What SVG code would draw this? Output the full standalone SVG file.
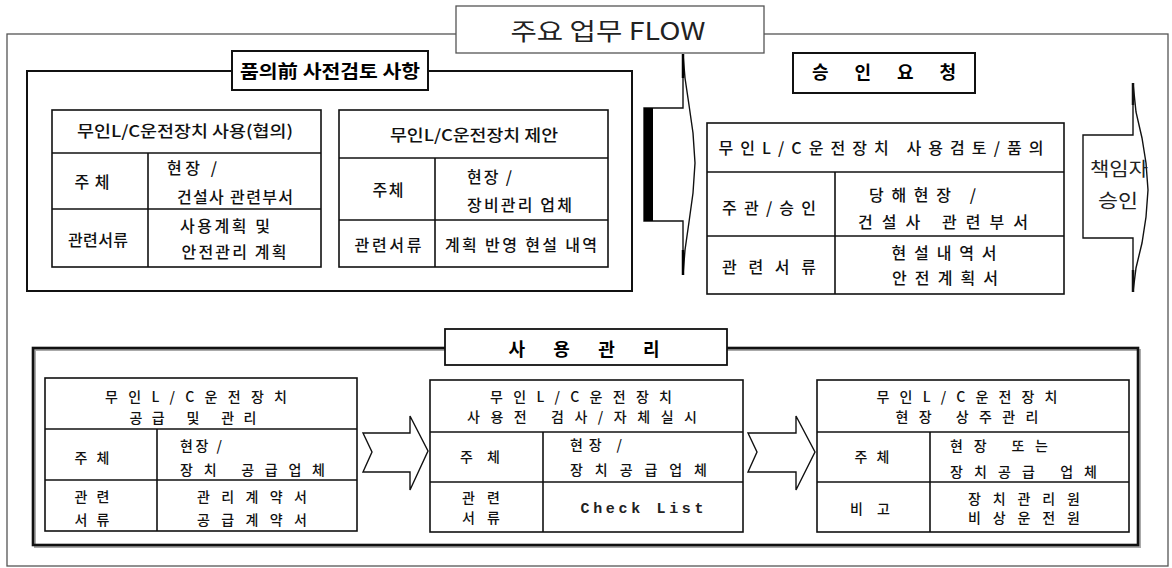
<svg xmlns="http://www.w3.org/2000/svg" width="1172" height="568" viewBox="0 0 1172 568">
<style>
.bg{fill:#fff}
.frame{fill:none;stroke:#555;stroke-width:1.3}
.box{fill:#fff;stroke:#111;stroke-width:1.6}
.ln{stroke:#111;stroke-width:1.6;fill:none}
.t{font-family:"Noto Sans CJK KR","Noto Sans",sans-serif;font-size:16px;fill:#111;font-weight:500}
.s{font-family:"Noto Sans CJK KR","Noto Sans",sans-serif;font-size:14px;fill:#111;font-weight:500}
.h{font-family:"Noto Sans CJK KR","Noto Sans",sans-serif;font-size:18px;fill:#000;font-weight:700}
.m{text-anchor:middle}
.arr{fill:#fff;stroke:#111;stroke-width:1.4;stroke-linejoin:miter}
</style>
<rect class="bg" x="0" y="0" width="1172" height="568"/>
<rect class="frame" x="7" y="34" width="1161" height="532"/>
<g id="title">
<rect x="456" y="6" width="308" height="47" fill="#fff" stroke="#555" stroke-width="1.3"/>
<text x="608" y="40" text-anchor="middle" font-family="'Noto Sans CJK KR','Noto Sans',sans-serif" font-size="24" fill="#222" textLength="195" lengthAdjust="spacingAndGlyphs">주요 업무 FLOW</text>
</g>
<g id="section-precheck">
<rect x="27" y="71" width="605" height="220" fill="none" stroke="#111" stroke-width="2"/>
<rect x="232" y="51" width="196" height="39" fill="#fff" stroke="#111" stroke-width="2"/>
<text class="h m" x="330" y="78" textLength="180" lengthAdjust="spacingAndGlyphs">품의前 사전검토 사항</text>
</g>
<g id="table-use">
<rect class="box" x="52" y="110" width="269" height="157"/>
<line class="ln" x1="52" y1="153" x2="321" y2="153"/>
<line class="ln" x1="52" y1="209" x2="321" y2="209"/>
<line class="ln" x1="148" y1="153" x2="148" y2="267"/>
<text class="t m" x="185" y="137" textLength="216" lengthAdjust="spacingAndGlyphs">무인L/C운전장치 사용(협의)</text>
<text class="t m" x="92" y="188" textLength="35">주체</text>
<text class="t" x="167" y="174" textLength="50">현장 /</text>
<text class="t" x="177" y="203" textLength="116">건설사 관련부서</text>
<text class="t m" x="98" y="246" textLength="60">관련서류</text>
<text class="t m" x="225" y="232" textLength="90">사용계획 및</text>
<text class="t m" x="234" y="258" textLength="105">안전관리 계획</text>
</g>
<g id="table-propose">
<rect class="box" x="339" y="110" width="269" height="157"/>
<line class="ln" x1="339" y1="158" x2="608" y2="158"/>
<line class="ln" x1="339" y1="220" x2="608" y2="220"/>
<line class="ln" x1="435" y1="158" x2="435" y2="267"/>
<text class="t m" x="474" y="141" textLength="168" lengthAdjust="spacingAndGlyphs">무인L/C운전장치 제안</text>
<text class="t m" x="388" y="196" textLength="31">주체</text>
<text class="t" x="467" y="183" textLength="45">현장 /</text>
<text class="t" x="467" y="211" textLength="105">장비관리 업체</text>
<text class="t m" x="388" y="251" textLength="67">관련서류</text>
<text class="t m" x="521" y="251" textLength="152">계획 반영 현설 내역</text>
</g>
<g id="section-approval">
<rect x="793" y="53" width="182" height="40" fill="#fff" stroke="#111" stroke-width="2"/>
<text class="h m" x="884" y="79" textLength="144">승 인 요 청</text>
</g>
<g id="table-review">
<rect class="box" x="707" y="123" width="357" height="171"/>
<line class="ln" x1="707" y1="172" x2="1064" y2="172"/>
<line class="ln" x1="707" y1="236" x2="1064" y2="236"/>
<line class="ln" x1="835" y1="172" x2="835" y2="294"/>
<text class="t m" x="881" y="154" textLength="325">무인L/C운전장치 사용검토/품의</text>
<text class="t m" x="769" y="214" textLength="94">주관/승인</text>
<text class="t" x="869" y="201" textLength="107">당해현장 /</text>
<text class="t" x="858" y="228" textLength="170">건설사 관련부서</text>
<text class="t m" x="769" y="273" textLength="94">관련서류</text>
<text class="t m" x="944" y="259" textLength="105">현설내역서</text>
<text class="t m" x="945" y="284" textLength="106">안전계획서</text>
</g>
<g id="approve-arrow">
<path class="arr" d="M1133,83 L1133,135 L1083,135 L1083,238 L1133,238 L1133,292 L1136,268 L1142,243 L1146,217 L1148,190 L1146,163 L1142,138 L1136,112 Z"/>
<line x1="1133" y1="83" x2="1133" y2="105" stroke="#111" stroke-width="2.5"/>
<line x1="1133" y1="270" x2="1133" y2="292" stroke="#111" stroke-width="2.5"/>
<text x="1119" y="176" text-anchor="middle" font-family="'Noto Sans CJK KR',sans-serif" font-size="19" fill="#222" textLength="58" lengthAdjust="spacingAndGlyphs">책임자</text>
<text x="1118" y="208" text-anchor="middle" font-family="'Noto Sans CJK KR',sans-serif" font-size="19" fill="#222" textLength="40" lengthAdjust="spacingAndGlyphs">승인</text>
</g>
<g id="section-manage">
<rect x="35" y="350" width="1105" height="197" fill="none" stroke="#aaa" stroke-width="2"/>
<rect x="33" y="348" width="1105" height="197" fill="none" stroke="#111" stroke-width="2.6"/>
<rect x="445" y="329" width="282" height="36" fill="#fff" stroke="#111" stroke-width="1.8"/>
<text class="h m" x="584" y="356" font-size="17" textLength="151">사 용 관 리</text>
</g>
<g id="table-supply">
<rect class="box" x="45" y="378" width="312" height="153"/>
<line class="ln" x1="45" y1="429" x2="357" y2="429"/>
<line class="ln" x1="45" y1="480" x2="357" y2="480"/>
<line class="ln" x1="157" y1="429" x2="157" y2="531"/>
<text class="s m" x="196" y="402" textLength="182">무인L/C운전장치</text>
<text class="s m" x="193" y="423" textLength="127">공급 및 관리</text>
<text class="s m" x="92" y="463" textLength="35">주체</text>
<text class="s" x="180" y="451" textLength="42">현장 /</text>
<text class="s" x="180" y="475" textLength="145">장치 공급업체</text>
<text class="s m" x="92" y="502" textLength="35">관련</text>
<text class="s m" x="92" y="525" textLength="35">서류</text>
<text class="s m" x="252" y="502" textLength="110">관리계약서</text>
<text class="s m" x="252" y="525" textLength="110">공급계약서</text>
</g>
<g id="table-inspect">
<rect class="box" x="430" y="380" width="313" height="152"/>
<line class="ln" x1="430" y1="432" x2="743" y2="432"/>
<line class="ln" x1="430" y1="482" x2="743" y2="482"/>
<line class="ln" x1="543" y1="432" x2="543" y2="532"/>
<text class="s m" x="581" y="402" textLength="182">무인L/C운전장치</text>
<text class="s m" x="582" y="422" textLength="230">사용전 검사/자체실시</text>
<text class="s m" x="480" y="462" textLength="40">주체</text>
<text class="s" x="570" y="450" textLength="52">현장 /</text>
<text class="s" x="570" y="475" textLength="137">장치공급업체</text>
<text class="s m" x="481" y="503" textLength="38">관련</text>
<text class="s m" x="481" y="523" textLength="38">서류</text>
<text x="642" y="513" text-anchor="middle" font-family="'Liberation Mono',monospace" font-size="15" font-weight="700" fill="#222" textLength="123">Check List</text>
</g>
<g id="table-onsite">
<rect class="box" x="817" y="380" width="312" height="152"/>
<line class="ln" x1="817" y1="432" x2="1129" y2="432"/>
<line class="ln" x1="817" y1="482" x2="1129" y2="482"/>
<line class="ln" x1="930" y1="432" x2="930" y2="532"/>
<text class="s m" x="967" y="402" textLength="181">무인L/C운전장치</text>
<text class="s m" x="967" y="422" textLength="143">현장 상주관리</text>
<text class="s m" x="872" y="462" textLength="35">주체</text>
<text class="s" x="950" y="451" textLength="98">현장 또는</text>
<text class="s" x="950" y="477" textLength="147">장치공급 업체</text>
<text class="s m" x="870" y="514" textLength="40">비고</text>
<text class="s m" x="1024" y="504" textLength="112">장치관리원</text>
<text class="s m" x="1024" y="523" textLength="112">비상운전원</text>
</g>
<g id="connectors">
<path class="arr" d="M683,54 L683,108 L644,108 L644,221 L683,221 L683,275 L685,250 L689,222 L693,193 L695,163 L693,133 L689,105 L685,78 Z"/>
<rect x="644" y="108" width="9" height="113" fill="#000"/>
<line x1="683" y1="54" x2="683" y2="78" stroke="#000" stroke-width="2.5"/>
<line x1="683" y1="250" x2="683" y2="275" stroke="#000" stroke-width="2.5"/>
<polygon class="arr" points="363,433 410,433 410,416 428,451 410,490 410,472 363,472 372,452"/>
<polygon class="arr" points="748,433 796,433 796,416 815,452 796,490 796,472 748,472 757,452"/>
</g>
</svg>
